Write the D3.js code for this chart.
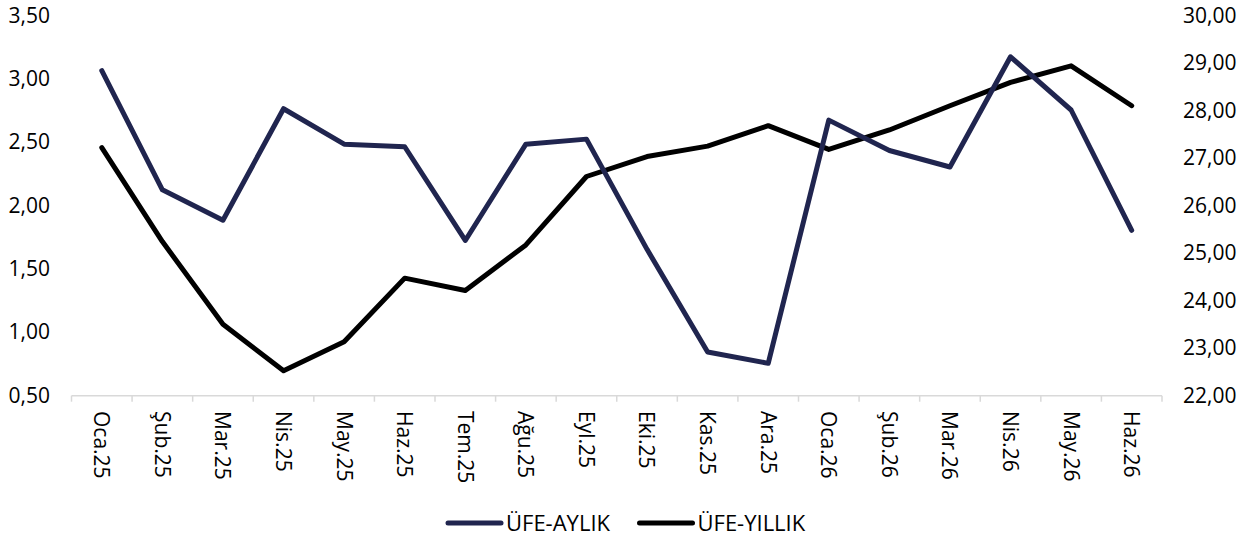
<!DOCTYPE html>
<html>
<head>
<meta charset="utf-8">
<script src="https://cdn.jsdelivr.net/npm/d3@7"></script>
<style>
  body { margin: 0; background: #fff; }
  svg text { font-family: "Open Sans", sans-serif; fill: #000; }
</style>
</head>
<body>
<svg id="chart" width="1258" height="543"></svg>
<script>
// categories (months)
var months = ['Oca.25', 'Şub.25', 'Mar.25', 'Nis.25', 'May.25', 'Haz.25', 'Tem.25',
  'Ağu.25', 'Eyl.25', 'Eki.25', 'Kas.25', 'Ara.25', 'Oca.26', 'Şub.26', 'Mar.26',
  'Nis.26', 'May.26', 'Haz.26'];

// monthly PPI (left axis)
var ufeAylik = [3.06, 2.12, 1.88, 2.76, 2.48, 2.46, 1.72, 2.48, 2.52, 1.65,
  0.84, 0.75, 2.67, 2.43, 2.30, 3.17, 2.75, 1.80];

// annual PPI (right axis)
var ufeYillik = [27.21, 25.23, 23.49, 22.51, 23.12, 24.46, 24.20, 25.16, 26.60,
  27.02, 27.24, 27.67, 27.17, 27.58, 28.09, 28.58, 28.93, 28.09];

var leftTicks = [0.5, 1.0, 1.5, 2.0, 2.5, 3.0, 3.5];
var rightTicks = [22, 23, 24, 25, 26, 27, 28, 29, 30];

var seriesNames = ['ÜFE-AYLIK', 'ÜFE-YILLIK'];
var seriesColors = ['#20254f', '#000000'];

var svg = d3.select('#chart');
var fontSize = 21;
var legendFont = 22;

var plotLeft = 71.5, plotRight = 1162, plotTop = 15, plotBottom = 395;

var x = d3.scaleBand()
    .domain(months)
    .range([plotLeft, plotRight])
    .padding(0);

var yLeft = d3.scaleLinear().domain([0.5, 3.5]).range([plotBottom, plotTop]);
var yRight = d3.scaleLinear().domain([22, 30]).range([plotBottom, plotTop]);

var fmt = function(v) { return d3.format('.2f')(v).replace('.', ','); };

// left labels
svg.append('g').selectAll('text')
    .data(leftTicks)
    .enter().append('text')
    .attr('x', 50)
    .attr('y', function(d) { return yLeft(d); })
    .attr('dy', '0.36em')
    .attr('text-anchor', 'end')
    .style('font-size', fontSize + 'px')
    .text(fmt);

// right labels
svg.append('g').selectAll('text')
    .data(rightTicks)
    .enter().append('text')
    .attr('x', 1183)
    .attr('y', function(d) { return yRight(d); })
    .attr('dy', '0.36em')
    .attr('text-anchor', 'start')
    .style('font-size', fontSize + 'px')
    .text(fmt);

// x axis line + ticks at band edges
var axisY = plotBottom + 0.7;
var xAxis = svg.append('g');
xAxis.append('line')
    .attr('x1', plotLeft).attr('x2', plotRight)
    .attr('y1', axisY).attr('y2', axisY)
    .attr('stroke', '#d9d9d9').attr('stroke-width', 1.5);

var edges = months.map(function(m) { return x(m); }).concat([plotRight]);
xAxis.selectAll('.tick')
    .data(edges)
    .enter().append('line')
    .attr('x1', function(d) { return d; }).attr('x2', function(d) { return d; })
    .attr('y1', axisY).attr('y2', axisY + 6)
    .attr('stroke', '#d9d9d9').attr('stroke-width', 1.5);

xAxis.selectAll('.lbl')
    .data(months)
    .enter().append('text')
    .attr('transform', function(d) {
      return 'translate(' + (x(d) + x.bandwidth() / 2) + ',' + 411 + ') rotate(90)';
    })
    .attr('dy', '0.36em')
    .attr('text-anchor', 'start')
    .style('font-size', fontSize + 'px')
    .text(function(d) { return d; });

// lines
var cx = function(d, i) { return x(months[i]) + x.bandwidth() / 2; };

var lineLeft = d3.line()
    .x(cx)
    .y(function(d) { return yLeft(d); });

var lineRight = d3.line()
    .x(cx)
    .y(function(d) { return yRight(d); });

svg.append('path')
    .datum(ufeYillik)
    .attr('d', lineRight)
    .attr('fill', 'none')
    .attr('stroke', seriesColors[1])
    .attr('stroke-width', 5)
    .attr('stroke-linejoin', 'round')
    .attr('stroke-linecap', 'round');

svg.append('path')
    .datum(ufeAylik)
    .attr('d', lineLeft)
    .attr('fill', 'none')
    .attr('stroke', seriesColors[0])
    .attr('stroke-width', 5)
    .attr('stroke-linejoin', 'round')
    .attr('stroke-linecap', 'round');

// legend
var legendX = [448, 639.5];
var legend = svg.selectAll('.legend')
    .data(seriesNames)
    .enter().append('g')
    .attr('transform', function(d, i) { return 'translate(' + legendX[i] + ',523)'; });

legend.append('line')
    .attr('x1', 0).attr('x2', 53)
    .attr('y1', 0).attr('y2', 0)
    .attr('stroke', function(d, i) { return seriesColors[i]; })
    .attr('stroke-width', 5)
    .attr('stroke-linecap', 'round');

legend.append('text')
    .attr('x', 58)
    .attr('y', 0)
    .attr('dy', '0.36em')
    .style('font-size', legendFont + 'px')
    .text(function(d) { return d; });
</script>
</body>
</html>
